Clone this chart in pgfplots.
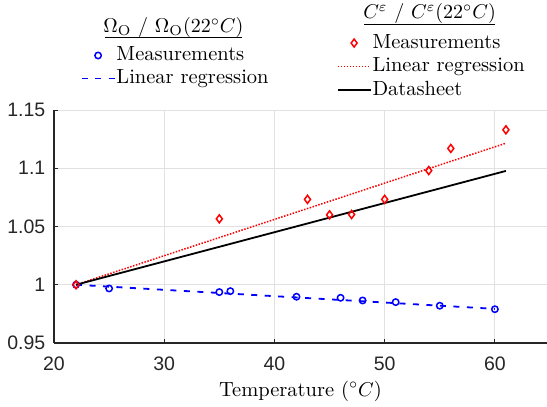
\documentclass[border=0pt]{standalone}
\usepackage{fontspec}
\usepackage{pgfplots}
\pgfplotsset{compat=1.18}
\newfontfamily\helv{Liberation Sans}
\definecolor{gridc}{RGB}{225,225,225}
\definecolor{axc}{RGB}{38,38,38}
\newcommand{\lf}{\fontsize{10.25}{12}\selectfont}
\newcommand{\tf}{\helv\fontsize{9.75}{11}\selectfont}
\pgfplotsset{
  base/.style={scale only axis, width=248pt, height=116.5pt,
    xmin=20, xmax=65, ymin=0.95, ymax=1.15},
  mylegend/.style={legend cell align=left,
    legend style={draw=none, fill=none, inner sep=0pt, outer sep=0pt, row sep=0pt,
      nodes={inner sep=0pt, text height=8.5pt, text depth=#1, font=\lf},
      /tikz/every odd column/.append style={column sep=0.5pt}},
    legend image code/.code={\draw[##1] (0pt,0pt) -- (16.5pt,0pt);}},
  markimg/.style={legend image code/.code={\draw[##1] plot coordinates {(8.25pt,0pt)};}},
}
\begin{document}
\begin{tikzpicture}
\begin{axis}[base, mylegend=3pt,
  axis x line*=bottom, axis y line*=left,
  axis line style={axc, line width=0.6pt},
  xtick={20,30,40,50,60}, xticklabels={20,30,40,50,60},
  ytick={0.95,1,1.05,1.1,1.15}, yticklabels={0.95,1,1.05,1.1,1.15},
  grid=major, major grid style={gridc, line width=0.5pt},
  tick style={axc, line width=0.5pt}, major tick length=2pt, tick align=inside,
  ticklabel style={font=\tf, text=axc, inner sep=0pt},
  xticklabel style={anchor=base, yshift=-13.85pt},
  yticklabel style={anchor=east, xshift=-4.15pt},
  /pgf/number format/assume math mode=true,
  xlabel={Temperature ($^\circ C$)},
  xlabel style={font=\lf, at={(axis description cs:0.497,-0.2275)}, anchor=base, inner sep=0pt},
  legend style={at={(0.0538,1.2833)}, anchor=north west},
]
\addplot[only marks, mark=o, blue, mark size=1.6pt, line width=0.75pt, markimg]
  coordinates {(22,1.0) (25,0.9968) (35,0.9937) (36,0.9945) (42,0.9897) (46,0.9888) (48,0.9865) (51,0.9851) (55,0.982) (60,0.979)};
\addlegendentry{Measurements}
\addplot[blue, line width=0.9pt, dash pattern=on 3pt off 3.75pt]
  coordinates {(22,1.0) (60,0.9793)};
\addlegendentry{Linear regression}
\end{axis}
\begin{axis}[base, mylegend=3.25pt, hide axis,
  legend style={at={(0.570,1.3378)}, anchor=north west},
]
\addplot[only marks, mark=diamond, red, mark size=2pt, line width=0.75pt, markimg]
  coordinates {(22,1.0) (35,1.0566) (43,1.0733) (45,1.060) (47,1.0603) (50,1.0733) (54,1.098) (56,1.117) (61,1.133)};
\addlegendentry{Measurements}
\addplot[red, line width=0.75pt, dash pattern=on 0.75pt off 0.75pt]
  coordinates {(22,1.0) (61,1.1215)};
\addlegendentry{Linear regression}
\addplot[black, line width=0.9pt]
  coordinates {(22,1.0) (61,1.0977)};
\addlegendentry{Datasheet}
\end{axis}
\node[font=\lf, anchor=base, inner sep=0pt] at (59.7pt,155.35pt) {$\Omega_{\mathrm{O}}\ /\ \Omega_{\mathrm{O}}(22^\circ C)$};
\draw[line width=0.5pt] (25.5pt,152.65pt) -- (93.85pt,152.65pt);
\node[font=\lf, anchor=base, inner sep=0pt] at (187.8pt,162.35pt) {$C^\varepsilon\ /\ C^\varepsilon(22^\circ C)$};
\draw[line width=0.5pt] (155.15pt,159pt) -- (220.5pt,159pt);
\pgfresetboundingbox
\useasboundingbox (-27pt,-32pt) rectangle (246.5pt,171.5pt);
\end{tikzpicture}
\end{document}
